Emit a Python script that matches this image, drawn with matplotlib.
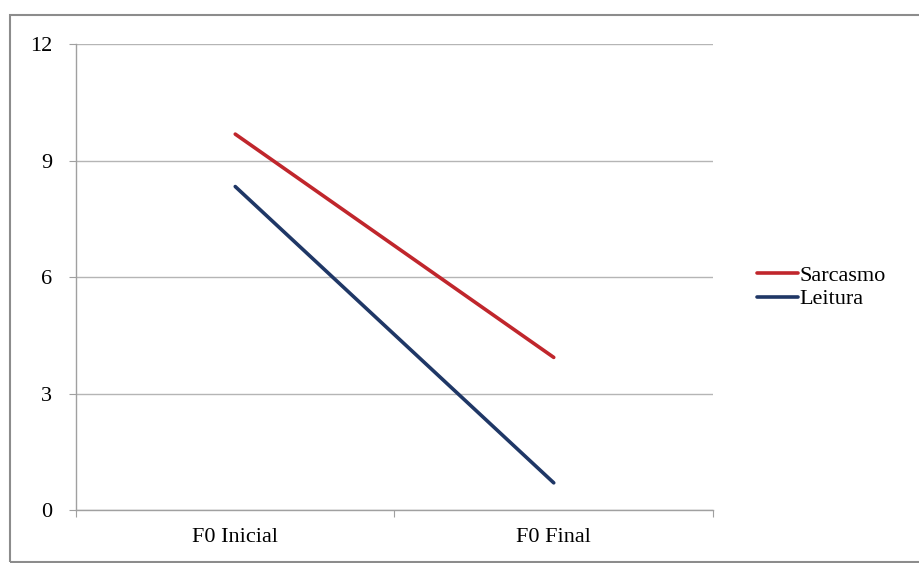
import matplotlib.pyplot as plt
from matplotlib.patches import Rectangle

categories = ["F0 Inicial", "F0 Final"]
sarcasmo = [9.68, 3.93]
leitura = [8.33, 0.70]
series_names = ["Sarcasmo", "Leitura"]
y_ticks = [0, 3, 6, 9, 12]

plt.rcParams["font.family"] = ["Liberation Serif", "DejaVu Serif"]

fig = plt.figure(figsize=(9.2, 5.63), dpi=100)
ax = fig.add_axes([0.0826, 0.0941, 0.6924, 0.8277])

# chart border (gray frame like Excel)
fig.patches.append(Rectangle((10 / 920, 1 / 563), 1.0, 547 / 563,
                             transform=fig.transFigure, fill=False,
                             edgecolor="#8c8c8c", linewidth=1.5))

x = [0.5, 1.5]
ax.plot(x, sarcasmo, color="#C0262C", linewidth=2.6, solid_capstyle="round",
        label=series_names[0])
ax.plot(x, leitura, color="#1F3766", linewidth=2.6, solid_capstyle="round",
        label=series_names[1])

ax.set_xlim(0, 2)
ax.set_ylim(0, 12)
ax.set_yticks(y_ticks)
ax.set_yticklabels([str(v) for v in y_ticks], fontsize=16)
ax.set_xticks([0, 1, 2])
ax.set_xticklabels([])
ax.set_xticks(x, minor=True)
ax.set_xticklabels(categories, minor=True, fontsize=16)
ax.tick_params(axis="x", which="minor", length=0, pad=13)
ax.tick_params(axis="x", which="major", length=5, color="#a0a0a0")
ax.tick_params(axis="y", length=5, color="#a0a0a0", pad=12)

ax.grid(axis="y", color="#b5b5b5", linewidth=1)
ax.set_axisbelow(True)
for side in ["top", "right"]:
    ax.spines[side].set_visible(False)
for side in ["left", "bottom"]:
    ax.spines[side].set_color("#a0a0a0")
    ax.spines[side].set_linewidth(1)

ax.legend(loc="center left", bbox_to_anchor=(1.055, 0.478), frameon=False,
          fontsize=16, handlelength=1.85, handletextpad=0.05,
          labelspacing=0.15, borderaxespad=0)

fig.savefig("out.png", dpi=100)
